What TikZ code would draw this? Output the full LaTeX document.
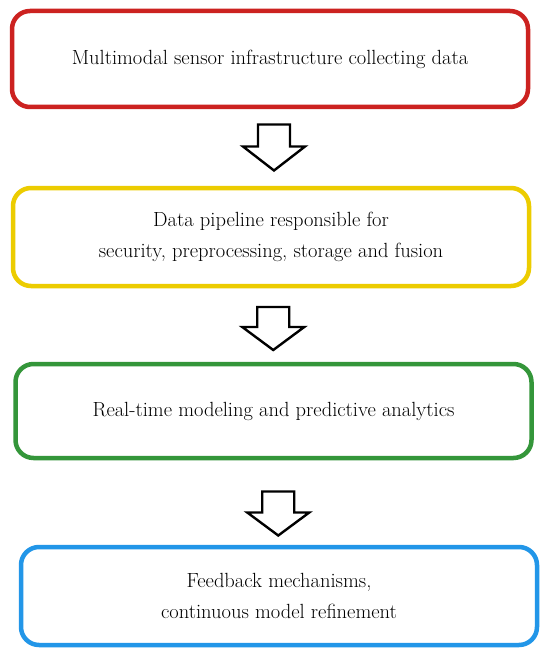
\documentclass[tikz,border=0pt]{standalone}
\usetikzlibrary{calc}
\definecolor{cred}{RGB}{204,34,32}
\definecolor{cyel}{RGB}{236,204,0}
\definecolor{cgrn}{RGB}{52,150,58}
\definecolor{cblu}{RGB}{34,150,232}
\begin{document}
\begin{tikzpicture}[x=1pt,y=-1pt,
  box/.style={draw, line width=4.5pt, rounded corners=18pt, minimum width=516pt,
    minimum height=96pt, align=center, fill=white, font=\fontsize{20.5}{31}\selectfont},
  blockarr/.style={draw=black, line width=2.4pt, fill=white, line join=miter}]
\useasboundingbox[fill=white] (0,0) rectangle (550,658);
\node[box, draw=cred] (r) at (270,59) {Multimodal sensor infrastructure collecting data};
\node[box, draw=cyel, minimum height=98pt] (y) at (271,237) {Data pipeline responsible for\\security, preprocessing, storage and fusion};
\node[box, draw=cgrn, minimum height=94pt] (g) at (273.5,411) {Real-time modeling and predictive analytics};
\node[box, draw=cblu, minimum height=98pt] (b) at (279,596) {Feedback mechanisms,\\continuous model refinement};
\coordinate (a1) at ($(r.south)!0.5!(y.north)$);
\coordinate (a2) at ($(y.south)!0.5!(g.north)$);
\coordinate (a3) at ($(g.south)!0.5!(b.north)$);
\draw[blockarr] ($(a1)+(3.5,-23)$) ++(-16,0) -- ++(32,0) -- ++(0,22) -- ++(15,0) -- ++(-31,24) -- ++(-31,-24) -- ++(15,0) -- cycle;
\draw[blockarr] ($(a2)+(1,-18)$) ++(-16,0) -- ++(32,0) -- ++(0,20) -- ++(15,0) -- ++(-31,23) -- ++(-31,-23) -- ++(15,0) -- cycle;
\draw[blockarr] ($(a3)+(2,-11)$) ++(-16,0) -- ++(32,0) -- ++(0,21) -- ++(15,0) -- ++(-31,23) -- ++(-31,-23) -- ++(15,0) -- cycle;
\end{tikzpicture}
\end{document}
